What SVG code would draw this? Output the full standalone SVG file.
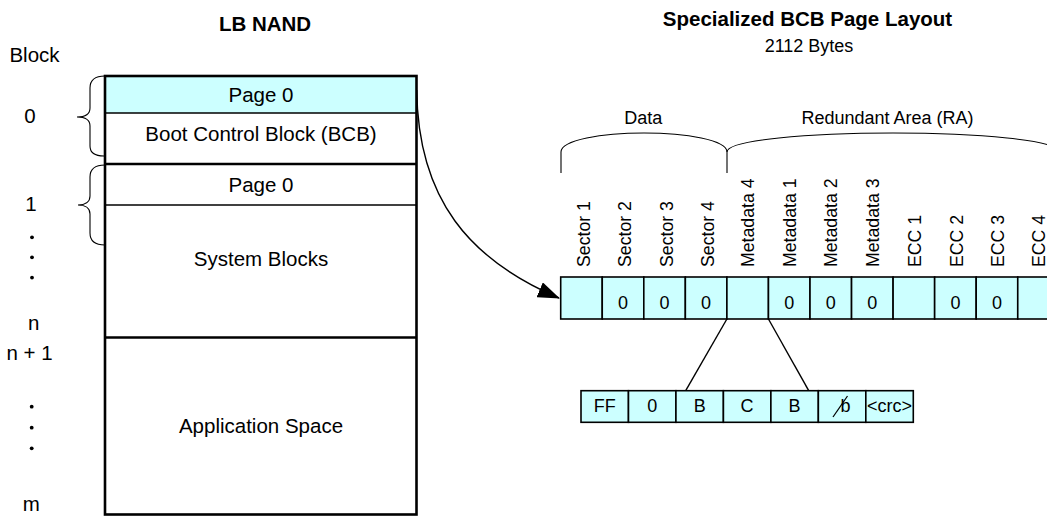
<svg xmlns="http://www.w3.org/2000/svg" width="1047" height="516" viewBox="0 0 1047 516">
<style>
text{font-family:"Liberation Sans",Arial,sans-serif;fill:#000}
.lt{font-size:20.5px}
.rt{font-size:18px}
.vt{font-size:17.7px}
.tt{font-size:20.5px;font-weight:bold}
.c{text-anchor:middle}
.cell{fill:#ccffff;stroke:#000;stroke-width:1.6}
.ln{fill:none;stroke:#000;stroke-width:1.4}
.thick{fill:none;stroke:#000;stroke-width:2.6}
.brace{fill:none;stroke:#000;stroke-width:1.1}
</style>
<defs>
<marker id="arr" markerWidth="22" markerHeight="16" refX="21" refY="8" orient="auto" markerUnits="userSpaceOnUse">
<path d="M0,0 L22,8 L0,16 Z" fill="#000"/>
</marker>
</defs>
<rect width="1047" height="516" fill="#fff"/>

<g id="titles">
<text class="tt c" x="265" y="31">LB NAND</text>
<text class="tt c" x="807.5" y="26">Specialized BCB Page Layout</text>
<text class="rt c" x="809" y="52">2112 Bytes</text>
</g>

<g id="block-labels">
<text class="lt c" x="34.5" y="62">Block</text>
<text class="lt c" x="30" y="123">0</text>
<text class="lt c" x="31" y="211">1</text>
<circle cx="32" cy="237.3" r="1.9"/>
<circle cx="32" cy="257.3" r="1.9"/>
<circle cx="32" cy="277.6" r="1.9"/>
<text class="lt c" x="33.7" y="330">n</text>
<text class="lt c" x="29.5" y="360">n + 1</text>
<circle cx="31.7" cy="406.7" r="1.9"/>
<circle cx="31.7" cy="427.7" r="1.9"/>
<circle cx="31.7" cy="448.3" r="1.9"/>
<text class="lt c" x="31.3" y="511">m</text>
</g>

<g id="block-braces">
<path class="brace" d="M105,76 C95,76 90,80 90,88 V108 C90,114 85,117 77,117 C85,117 90,120 90,126 V146 C90,153 95,156 104,156"/>
<path class="brace" d="M105,165 C95,165 90,169 90,177 V196 C90,202 85,205 78,205 C85,205 90,208 90,214 V233 C90,241 95,245 105,245"/>
</g>

<g id="lb-nand">
<rect x="105" y="76" width="311.5" height="37" fill="#ccffff"/>
<rect x="105" y="76" width="311.5" height="438.5" class="thick"/>
<line x1="105" y1="113" x2="416.5" y2="113" class="ln"/>
<line x1="105" y1="164" x2="416.5" y2="164" class="thick"/>
<line x1="105" y1="205" x2="416.5" y2="205" class="ln"/>
<line x1="105" y1="337.5" x2="416.5" y2="337.5" class="thick"/>
<text class="lt c" x="261" y="101.7">Page 0</text>
<text class="lt c" x="261" y="140.5">Boot Control Block (BCB)</text>
<text class="lt c" x="261" y="191.7">Page 0</text>
<text class="lt c" x="261" y="266">System Blocks</text>
<text class="lt c" x="261" y="433">Application Space</text>
</g>

<g id="area-braces">
<text class="rt c" x="643.3" y="124">Data</text>
<text class="rt c" x="887.5" y="124">Redundant Area (RA)</text>
<path class="brace" d="M561,173 V152 C561,140 602,133 644,133 C686,133 727,140 727,152 V173"/>
<path class="brace" d="M727,152 C727,140 810,133 893,133 C976,133 1059,140 1059,152 V173"/>
</g>

<g id="page-layout">
<rect class="cell" x="560.7" y="277" width="41.55" height="42"/>
<rect class="cell" x="602.25" y="277" width="41.55" height="42"/>
<rect class="cell" x="643.8" y="277" width="41.55" height="42"/>
<rect class="cell" x="685.35" y="277" width="41.55" height="42"/>
<rect class="cell" x="726.9" y="277" width="41.55" height="42"/>
<rect class="cell" x="768.45" y="277" width="41.55" height="42"/>
<rect class="cell" x="810" y="277" width="41.55" height="42"/>
<rect class="cell" x="851.55" y="277" width="41.55" height="42"/>
<rect class="cell" x="893.1" y="277" width="41.55" height="42"/>
<rect class="cell" x="934.65" y="277" width="41.55" height="42"/>
<rect class="cell" x="976.2" y="277" width="41.55" height="42"/>
<rect class="cell" x="1017.75" y="277" width="41.55" height="42"/>
<text class="rt c" x="623" y="309">0</text>
<text class="rt c" x="664.6" y="309">0</text>
<text class="rt c" x="706.1" y="309">0</text>
<text class="rt c" x="789.2" y="309">0</text>
<text class="rt c" x="830.8" y="309">0</text>
<text class="rt c" x="872.3" y="309">0</text>
<text class="rt c" x="955.4" y="309">0</text>
<text class="rt c" x="997" y="309">0</text>
<text class="vt" transform="translate(589.5,267) rotate(-90)">Sector 1</text>
<text class="vt" transform="translate(631,267) rotate(-90)">Sector 2</text>
<text class="vt" transform="translate(672.6,267) rotate(-90)">Sector 3</text>
<text class="vt" transform="translate(714.1,267) rotate(-90)">Sector 4</text>
<text class="vt" transform="translate(754.2,267) rotate(-90)">Metadata 4</text>
<text class="vt" transform="translate(795.7,267) rotate(-90)">Metadata 1</text>
<text class="vt" transform="translate(837.3,267) rotate(-90)">Metadata 2</text>
<text class="vt" transform="translate(878.8,267) rotate(-90)">Metadata 3</text>
<text class="vt" transform="translate(921,267) rotate(-90)">ECC 1</text>
<text class="vt" transform="translate(962.6,267) rotate(-90)">ECC 2</text>
<text class="vt" transform="translate(1004.1,267) rotate(-90)">ECC 3</text>
<text class="vt" transform="translate(1045,267) rotate(-90)">ECC 4</text>
</g>

<g id="metadata-detail">
<rect class="cell" x="581" y="390.7" width="47.47" height="31.6"/>
<rect class="cell" x="628.47" y="390.7" width="47.47" height="31.6"/>
<rect class="cell" x="675.94" y="390.7" width="47.47" height="31.6"/>
<rect class="cell" x="723.41" y="390.7" width="47.47" height="31.6"/>
<rect class="cell" x="770.88" y="390.7" width="47.47" height="31.6"/>
<rect class="cell" x="818.35" y="390.7" width="47.47" height="31.6"/>
<rect class="cell" x="865.82" y="390.7" width="47.47" height="31.6"/>
<text class="rt c" x="604.7" y="412.3">FF</text>
<text class="rt c" x="652.2" y="412.3">0</text>
<text class="rt c" x="699.7" y="412.3">B</text>
<text class="rt c" x="747.1" y="412.3">C</text>
<text class="rt c" x="794.6" y="412.3">B</text>
<text class="rt c" x="845.5" y="412.3">b</text>
<line x1="833" y1="417" x2="847.5" y2="396" stroke="#000" stroke-width="1.3"/>
<text class="rt c" x="889.6" y="412.3">&lt;crc&gt;</text>
</g>

<g id="connectors">
<path class="ln" d="M416.7,90 C418,200 470,260 559,298" marker-end="url(#arr)"/>
<line class="ln" x1="726.9" y1="319" x2="685.7" y2="390.7"/>
<line class="ln" x1="768.45" y1="319" x2="808.7" y2="390.7"/>
</g>
</svg>
